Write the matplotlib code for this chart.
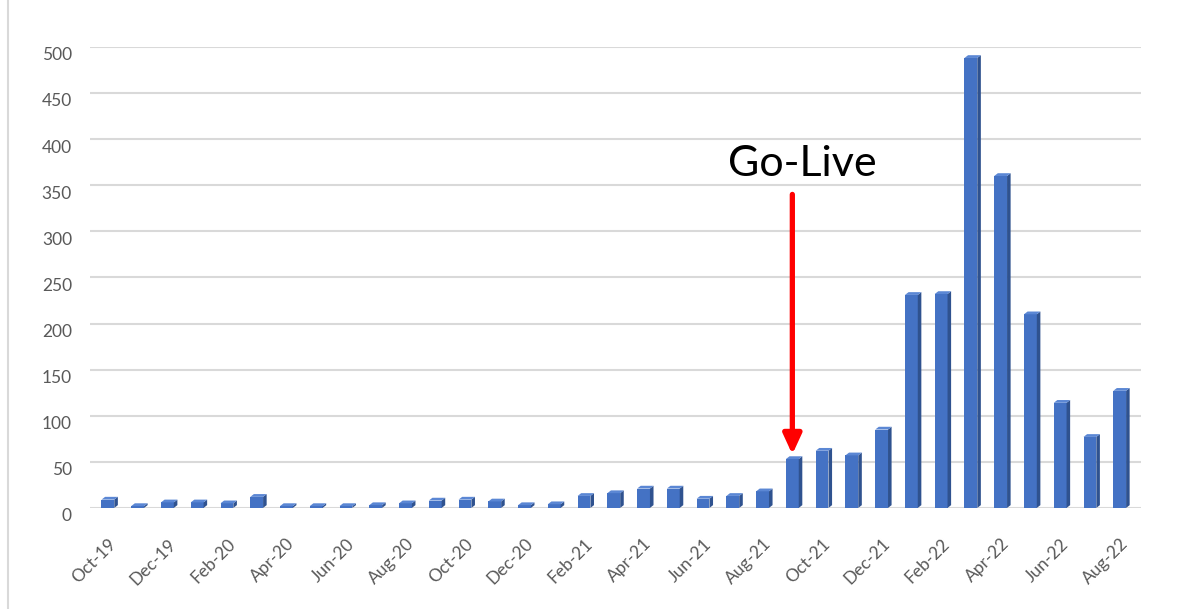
import matplotlib.pyplot as plt
from matplotlib.patches import Polygon
from matplotlib.lines import Line2D
from matplotlib.transforms import ScaledTranslation

plt.rcParams['font.family'] = ['Lato', 'DejaVu Sans']

months = ['Oct-19', 'Nov-19', 'Dec-19', 'Jan-20', 'Feb-20', 'Mar-20', 'Apr-20',
          'May-20', 'Jun-20', 'Jul-20', 'Aug-20', 'Sep-20', 'Oct-20', 'Nov-20',
          'Dec-20', 'Jan-21', 'Feb-21', 'Mar-21', 'Apr-21', 'May-21', 'Jun-21',
          'Jul-21', 'Aug-21', 'Sep-21', 'Oct-21', 'Nov-21', 'Dec-21', 'Jan-22',
          'Feb-22', 'Mar-22', 'Apr-22', 'May-22', 'Jun-22', 'Jul-22', 'Aug-22']
counts = [9, 2, 6, 6, 5, 12, 2, 2, 2, 3, 5, 8, 9, 7, 3, 4, 13, 16, 21, 21, 10,
          13, 18, 53, 62, 57, 85, 231, 232, 488, 360, 210, 114, 77, 127]
golive_month = 'Sep-21'
golive_text = 'Go-Live'
yticks = [0, 50, 100, 150, 200, 250, 300, 350, 400, 450, 500]

front = '#4472C4'
side = '#2F528F'
top = '#5B87D4'
w, dx, dy = 0.43, 0.12, 3.0

fig = plt.figure(figsize=(11.77, 6.09), dpi=100)
ax = fig.add_axes([0.0765, 0.166, 0.8925, 0.757])

x = list(range(len(months)))
ax.bar(x, counts, width=w, color=front, zorder=3)
for xi, v in zip(x, counts):
    r = xi + w / 2
    l = xi - w / 2
    ax.add_patch(Polygon([(r, 0), (r + dx, dy), (r + dx, v + dy), (r, v)],
                         closed=True, facecolor=side, edgecolor='none', zorder=3))
    ax.add_patch(Polygon([(l, v), (r, v), (r + dx, v + dy), (l + dx, v + dy)],
                         closed=True, facecolor=top, edgecolor='none', zorder=3))

ax.set_xlim(-0.6, 34.7)
ax.set_ylim(0, 500)
ax.set_yticks(yticks)
ax.yaxis.grid(True, color='#D9D9D9', linewidth=1.5, zorder=0)
ax.set_axisbelow(True)
for s in ax.spines.values():
    s.set_visible(False)

ax.set_xticks(x[::2])
ax.set_xticklabels(months[::2], rotation=45, ha='right', rotation_mode='anchor',
                   fontsize=12.5, color='#595959')
ax.tick_params(axis='x', length=0, pad=20)
ax.tick_params(axis='y', length=0, pad=13, labelsize=12.5, labelcolor='#595959')
# y labels sit a little below their gridlines
shift = ScaledTranslation(0, -0.07, fig.dpi_scale_trans)
for lab in ax.get_yticklabels():
    lab.set_transform(lab.get_transform() + shift)

# go-live marker
gi = months.index(golive_month)
ax.annotate('', xy=(gi, counts[gi] + 5), xytext=(gi, 340),
            arrowprops=dict(arrowstyle='-|>,head_width=0.55,head_length=1.2',
                            color='#FF0000', lw=3.8, shrinkA=0, shrinkB=0),
            zorder=5)
ax.text(gi + 0.35, 373, golive_text, fontsize=31, color='black',
        ha='center', va='center', zorder=5)

fig.add_artist(Line2D([0.007, 0.007], [0, 1], color='#D9D9D9', lw=1.5,
                      transform=fig.transFigure))

fig.savefig('out.png', dpi=100)
